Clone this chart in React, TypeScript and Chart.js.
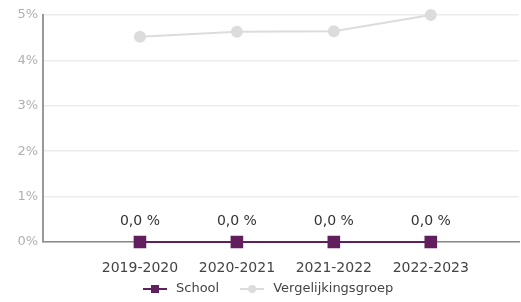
import React, { useEffect, useRef } from "react";
import { Chart, registerables } from "chart.js";

Chart.register(...registerables);

const categories = ["2019-2020", "2020-2021", "2021-2022", "2022-2023"];
const schoolValues = [0, 0, 0, 0];
const vergelijkingValues = [4.52, 4.63, 4.64, 5.0];
const yTicks = [0, 1, 2, 3, 4, 5];
const seriesNames = ["School", "Vergelijkingsgroep"];

const SCHOOL_COLOR = "#611f5e";
const VGL_COLOR = "#dcdcdc";
const FONT = "'DejaVu Sans', sans-serif";
const AREA_RIGHT = 519;

const areaPlugin = {
  id: "areaFix",
  afterLayout(chart: any) {
    const a = chart.chartArea;
    a.right = AREA_RIGHT;
    a.width = AREA_RIGHT - a.left;
    const xs = chart.scales.x;
    xs.right = AREA_RIGHT;
    xs.width = AREA_RIGHT - xs.left;
    xs.configure();
  },
};

const labelPlugin = {
  id: "valueLabels",
  afterDatasetsDraw(chart: any) {
    const ctx = chart.ctx;
    const meta = chart.getDatasetMeta(0);
    ctx.save();
    ctx.font = `14px ${FONT}`;
    ctx.fillStyle = "#333";
    ctx.textAlign = "center";
    ctx.textBaseline = "bottom";
    meta.data.forEach((pt: any, i: number) => {
      const v = schoolValues[i];
      ctx.fillText(v.toFixed(1).replace(".", ",") + " %", pt.x, pt.y - 14);
    });
    ctx.restore();
  },
};

const legendPlugin = {
  id: "customLegend",
  afterDraw(chart: any) {
    const ctx = chart.ctx;
    ctx.save();
    ctx.font = `13px ${FONT}`;
    const y = 289;
    const lineW = 24;
    const gap = 6;
    const spacing = 24;
    const widths = seriesNames.map((n) => lineW + gap + ctx.measureText(n).width);
    let x = 143;
    seriesNames.forEach((name, i) => {
      const color = i === 0 ? SCHOOL_COLOR : VGL_COLOR;
      ctx.strokeStyle = color;
      ctx.lineWidth = 2;
      ctx.beginPath();
      ctx.moveTo(x, y);
      ctx.lineTo(x + lineW, y);
      ctx.stroke();
      ctx.fillStyle = color;
      if (i === 0) {
        ctx.fillRect(x + lineW / 2 - 4, y - 4, 8, 8);
      } else {
        ctx.beginPath();
        ctx.arc(x + lineW / 2, y, 4, 0, Math.PI * 2);
        ctx.fill();
      }
      ctx.fillStyle = "#444";
      ctx.textAlign = "left";
      ctx.textBaseline = "middle";
      ctx.fillText(name, x + lineW + gap + 3, y);
      x += widths[i] + spacing;
    });
    ctx.restore();
  },
};

export default function App() {
  const ref = useRef<HTMLCanvasElement>(null);
  useEffect(() => {
    document.body.style.margin = "0";
    const chart = new Chart(ref.current as HTMLCanvasElement, {
      type: "line",
      data: {
        datasets: [
          {
            label: seriesNames[0],
            data: schoolValues.map((v, i) => ({ x: i + 1, y: v })),
            borderColor: SCHOOL_COLOR,
            backgroundColor: SCHOOL_COLOR,
            borderWidth: 2,
            pointStyle: "rect",
            pointRadius: 7.5,
            clip: false,
            order: 0,
          },
          {
            label: seriesNames[1],
            data: vergelijkingValues.map((v, i) => ({ x: i + 1, y: v })),
            borderColor: VGL_COLOR,
            backgroundColor: VGL_COLOR,
            borderWidth: 2,
            pointStyle: "circle",
            pointRadius: 5,
            clip: false,
            order: 1,
          },
        ],
      },
      options: {
        animation: false,
        responsive: false,
        layout: { padding: { top: 15, right: 2, bottom: 24, left: 0 } },
        plugins: { legend: { display: false }, tooltip: { enabled: false } },
        scales: {
          x: {
            type: "linear",
            min: 0,
            max: 4.91,
            afterBuildTicks: (s: any) => {
              s.ticks = categories.map((_, i) => ({ value: i + 1 }));
            },
            afterFit: (s: any) => {
              s.height = 36;
              s.paddingLeft = 0;
              s.paddingRight = 0;
            },
            grid: { display: false, drawTicks: false },
            border: { display: true, color: "#888", width: 1.5 },
            ticks: {
              callback: (v: any) => categories[Math.round(v) - 1] ?? "",
              color: "#444",
              font: { family: FONT, size: 14 },
              padding: 18,
              maxRotation: 0,
            },
          },
          y: {
            min: 0,
            max: 5,
            afterBuildTicks: (s: any) => {
              s.ticks = yTicks.map((v) => ({ value: v }));
            },
            afterFit: (s: any) => {
              s.width = 43;
            },
            grid: { color: "#ececec", drawTicks: false, lineWidth: 1.5 },
            border: { display: true, color: "#999", width: 2 },
            ticks: {
              callback: (v: any) => v + "%",
              color: "#b0b0b0",
              font: { family: FONT, size: 13 },
              padding: 5,
            },
          },
        },
      },
      plugins: [areaPlugin, labelPlugin, legendPlugin],
    } as any);
    return () => chart.destroy();
  }, []);
  return <canvas ref={ref} width={521} height={302} style={{ display: "block" }} />;
}
